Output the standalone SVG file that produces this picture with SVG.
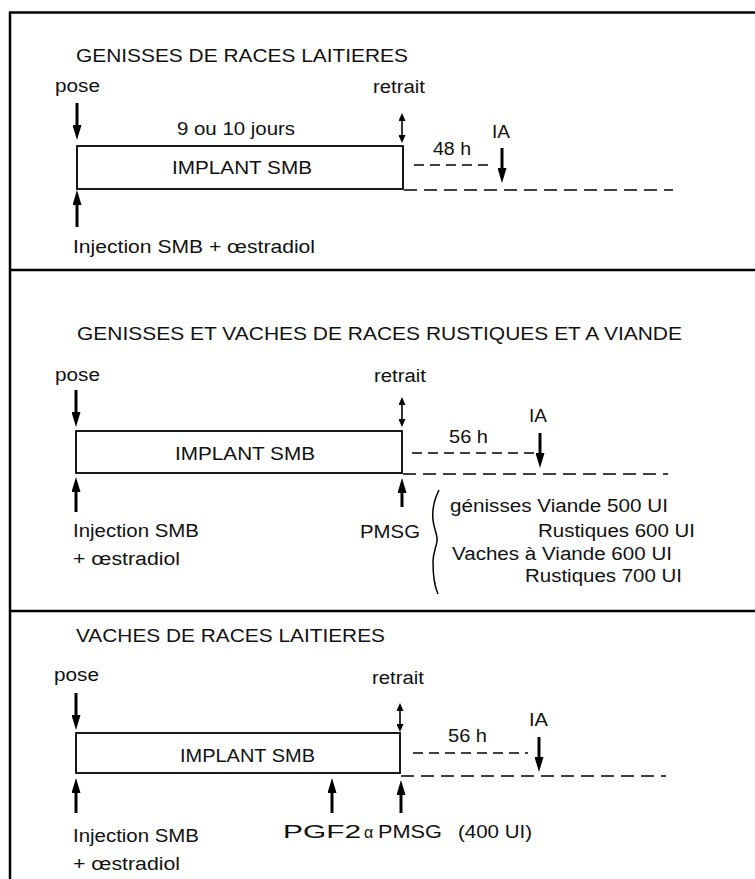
<svg xmlns="http://www.w3.org/2000/svg" width="755" height="879" viewBox="0 0 755 879">
<style>
text{font-family:"Liberation Sans",Arial,Helvetica,sans-serif;font-size:18px;fill:#111}
.frame{stroke:#000;stroke-width:2.5;fill:none}
.bar{fill:#fff;stroke:#000;stroke-width:1.8}
.thick{stroke:#000;stroke-width:3;fill:none;marker-end:url(#big)}
.dbl{stroke:#000;stroke-width:1.6;fill:none;marker-start:url(#small);marker-end:url(#small)}
.dashS{stroke:#000;stroke-width:1.6;stroke-dasharray:10 6;fill:none}
.dashL{stroke:#000;stroke-width:1.6;stroke-dasharray:13 7;fill:none}
.brace{stroke:#000;stroke-width:1.5;fill:none}
</style>
<defs>
<marker id="big" markerUnits="userSpaceOnUse" viewBox="0 0 15 9" markerWidth="15" markerHeight="9" refX="2" refY="4.5" orient="auto"><path d="M0,0 L15,4.5 L0,9 z" fill="#000"/></marker>
<marker id="small" markerUnits="userSpaceOnUse" viewBox="0 0 8 7" markerWidth="8" markerHeight="7" refX="2" refY="3.5" orient="auto-start-reverse"><path d="M0,0 L8,3.5 L0,7 z" fill="#000"/></marker>
</defs>
<g id="frame">
<line class="frame" x1="10" y1="12" x2="10" y2="879"/>
<line class="frame" x1="9" y1="12.5" x2="755" y2="12.5"/>
<line class="frame" x1="9" y1="270" x2="755" y2="270"/>
<line class="frame" x1="9" y1="611" x2="755" y2="611"/>
</g>

<g id="section1">
<text id="title1" x="76" y="62" textLength="332" lengthAdjust="spacingAndGlyphs">GENISSES DE RACES LAITIERES</text>
<text id="pose1" x="55" y="92" textLength="45" lengthAdjust="spacingAndGlyphs">pose</text>
<text id="retrait1" x="373" y="93" textLength="52" lengthAdjust="spacingAndGlyphs">retrait</text>
<text id="jours1" x="177" y="135" textLength="118" lengthAdjust="spacingAndGlyphs">9 ou 10 jours</text>
<g id="implant1"><rect class="bar" x="77" y="146" width="326" height="43"/>
<text x="172" y="174" textLength="140" lengthAdjust="spacingAndGlyphs">IMPLANT SMB</text></g>
<text id="h48" x="433" y="155" textLength="38" lengthAdjust="spacingAndGlyphs">48 h</text>
<text id="ia1" x="492" y="138" textLength="18" lengthAdjust="spacingAndGlyphs">IA</text>
<text id="inj1" x="73" y="253" textLength="242" lengthAdjust="spacingAndGlyphs">Injection SMB + œstradiol</text>
</g>

<g id="section2">
<text id="title2" x="77" y="340" textLength="605" lengthAdjust="spacingAndGlyphs">GENISSES ET VACHES DE RACES RUSTIQUES ET A VIANDE</text>
<text id="pose2" x="55" y="381" textLength="45" lengthAdjust="spacingAndGlyphs">pose</text>
<text id="retrait2" x="374" y="382" textLength="52" lengthAdjust="spacingAndGlyphs">retrait</text>
<g id="implant2"><rect class="bar" x="76" y="431" width="326" height="42"/>
<text x="175" y="460" textLength="140" lengthAdjust="spacingAndGlyphs">IMPLANT SMB</text></g>
<text id="h56a" x="449" y="443" textLength="39" lengthAdjust="spacingAndGlyphs">56 h</text>
<text id="ia2" x="529" y="422" textLength="18" lengthAdjust="spacingAndGlyphs">IA</text>
<text id="inj2a" x="73" y="537" textLength="126" lengthAdjust="spacingAndGlyphs">Injection SMB</text>
<text id="inj2b" x="73" y="565" textLength="107" lengthAdjust="spacingAndGlyphs">+ œstradiol</text>
<text id="pmsg2" x="360" y="538" textLength="60" lengthAdjust="spacingAndGlyphs">PMSG</text>
<g id="doses">
<text x="450" y="512" textLength="218" lengthAdjust="spacingAndGlyphs">génisses Viande 500 UI</text>
<text x="538" y="537" textLength="157" lengthAdjust="spacingAndGlyphs">Rustiques 600 UI</text>
<text x="452" y="560" textLength="220" lengthAdjust="spacingAndGlyphs">Vaches à Viande 600 UI</text>
<text x="525" y="582" textLength="157" lengthAdjust="spacingAndGlyphs">Rustiques 700 UI</text>
</g>
</g>

<g id="section3">
<text id="title3" x="76" y="642" textLength="309" lengthAdjust="spacingAndGlyphs">VACHES DE RACES LAITIERES</text>
<text id="pose3" x="54" y="681" textLength="45" lengthAdjust="spacingAndGlyphs">pose</text>
<text id="retrait3" x="372" y="684" textLength="52" lengthAdjust="spacingAndGlyphs">retrait</text>
<g id="implant3"><rect class="bar" x="76" y="733" width="324" height="40"/>
<text x="180" y="762" textLength="135" lengthAdjust="spacingAndGlyphs">IMPLANT SMB</text></g>
<text id="h56b" x="448" y="742" textLength="39" lengthAdjust="spacingAndGlyphs">56 h</text>
<text id="ia3" x="529" y="726" textLength="19" lengthAdjust="spacingAndGlyphs">IA</text>
<text id="inj3a" x="73" y="842" textLength="126" lengthAdjust="spacingAndGlyphs">Injection SMB</text>
<text id="inj3b" x="73" y="870" textLength="107" lengthAdjust="spacingAndGlyphs">+ œstradiol</text>
<text id="pgf" y="838"><tspan x="283" textLength="78" lengthAdjust="spacingAndGlyphs">PGF2</tspan><tspan x="364" font-size="16">α </tspan><tspan x="378" textLength="64" lengthAdjust="spacingAndGlyphs">PMSG</tspan><tspan>  </tspan><tspan x="458" textLength="74" lengthAdjust="spacingAndGlyphs">(400 UI)</tspan></text>
</g>

<g id="connectors">
<!-- section 1 -->
<line class="thick" x1="77" y1="103" x2="77" y2="127"/>
<line class="thick" x1="77" y1="227" x2="77" y2="203"/>
<line class="dbl" x1="402" y1="119" x2="402" y2="137"/>
<line class="thick" x1="502" y1="148" x2="502" y2="170"/>
<line class="dashS" x1="414" y1="165" x2="492" y2="165"/>
<line class="dashL" x1="404" y1="190" x2="673" y2="190"/>
<!-- section 2 -->
<line class="thick" x1="76" y1="390" x2="76" y2="414"/>
<line class="thick" x1="76" y1="512" x2="76" y2="490"/>
<line class="thick" x1="402" y1="507" x2="402" y2="491"/>
<line class="dbl" x1="402" y1="403" x2="402" y2="421"/>
<line class="thick" x1="540" y1="433" x2="540" y2="455"/>
<line class="dashS" x1="412" y1="453" x2="537" y2="453"/>
<line class="dashL" x1="403" y1="474" x2="668" y2="474"/>
<path class="brace" d="M439,490 C434,500 432,510 433,520 C434,530 438,535 437,541 C436,548 433,553 433,562 C433,572 434,585 438,594"/>
<!-- section 3 -->
<line class="thick" x1="76" y1="693" x2="76" y2="717"/>
<line class="thick" x1="76" y1="813" x2="76" y2="791"/>
<line class="thick" x1="332" y1="813" x2="332" y2="791"/>
<line class="thick" x1="401" y1="813" x2="401" y2="793"/>
<line class="dbl" x1="400" y1="709" x2="400" y2="726"/>
<line class="thick" x1="539" y1="737" x2="539" y2="759"/>
<line class="dashS" x1="413" y1="753" x2="528" y2="753"/>
<line class="dashL" x1="401" y1="776" x2="666" y2="776"/>
</g>
</svg>
